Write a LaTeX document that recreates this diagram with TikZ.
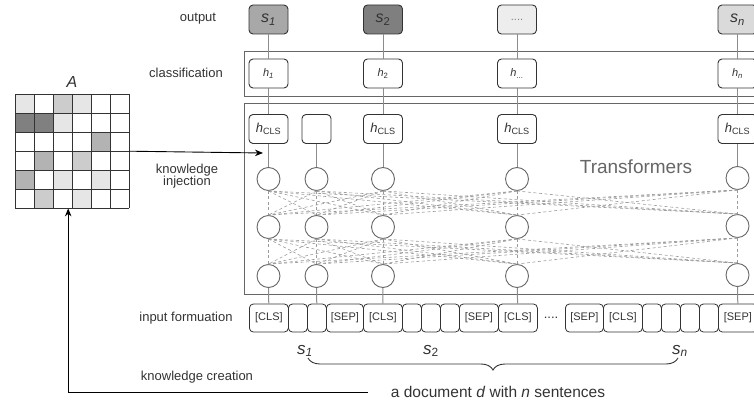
\documentclass[tikz,border=0pt]{standalone}
\usepackage{fontspec}
\setmainfont{Liberation Sans}
\usetikzlibrary{decorations.pathreplacing, arrows.meta}

\definecolor{ink}{HTML}{333333}
\definecolor{rim}{HTML}{666666}
\definecolor{wire}{HTML}{8C8C8C}
\definecolor{mesh}{HTML}{9A9A9A}
\definecolor{outA}{HTML}{A8A8A8}
\definecolor{outB}{HTML}{7F7F7F}
\definecolor{outC}{HTML}{EDEDED}
\definecolor{outD}{HTML}{DADADA}
\definecolor{cellD}{HTML}{808080}
\definecolor{cellM}{HTML}{B3B3B3}
\definecolor{cellK}{HTML}{CCCCCC}
\definecolor{cellL}{HTML}{E6E6E6}

\newcommand{\fsz}[1]{\fontsize{#1}{#1}\selectfont}

\tikzset{
  every node/.style={text=ink},
  lbl/.style={font=\fsz{13}, inner sep=1pt},
  frame/.style={draw=rim, line width=1.3pt, anchor=north west, inner sep=0},
  outbox/.style={draw=ink, line width=0.9pt, rounded corners=4pt, minimum width=39pt, minimum height=29pt, inner sep=0},
  hbox/.style={outbox, fill=white},
  neuron/.style={circle, draw=rim, fill=white, line width=0.9pt, minimum size=23pt, inner sep=0},
  token/.style={draw=ink, line width=0.8pt, rounded corners=4pt, minimum height=28pt, inner sep=0, anchor=west, font=\fsz{11}},
  conn/.style={draw=wire, line width=1pt},
  attn/.style={draw=mesh, dash pattern=on 3pt off 2.5pt, line width=0.6pt},
  arr/.style={-{Stealth[length=8pt,width=6.5pt]}, line width=0.9pt, black},
}

\begin{document}
\begin{tikzpicture}[x=1pt,y=-1pt]
\useasboundingbox (0,0) rectangle (754,404);

% row labels
\node[lbl] (lout) at (198,19) {output};
\node[lbl] (lcls) at (186,73) {classification};
\node[lbl] (linp) at (186,318) {input formuation};
\node[lbl, align=center] (linj) at (187,176) {knowledge\\[-1pt]injection};
\node[lbl] (lcre) at (197,377) {knowledge creation};

% knowledge matrix
\node[font=\fsz{16}\itshape] (Alabel) at (72,82) {A};
\node[minimum width=114pt, minimum height=114pt, inner sep=0, anchor=north west] (mat) at (15,94) {};
\foreach \c/\r/\tone in {0/0/cellL,2/0/cellK,3/0/cellL,0/1/cellD,1/1/cellD,2/1/cellL,4/2/cellM,1/3/cellM,3/3/cellK,0/4/cellM,2/4/cellL,4/4/cellL,1/5/cellK,3/5/cellL}
  \fill[\tone] (15+19*\c,94+19*\r) rectangle ++(19,19);
\foreach \k in {0,...,6} {
  \draw[ink, line width=0.9pt] (15+19*\k,94) -- (15+19*\k,208);
  \draw[ink, line width=0.9pt] (15,94+19*\k) -- (129,94+19*\k);
}

% frames
\node[frame, minimum width=526pt, minimum height=45pt] (clsframe) at (244,51) {};
\node[frame, minimum width=526pt, minimum height=191pt] (trframe) at (244,103) {};
\node[font=\fsz{19}, text=rim] (trlabel) at (636,167) {Transformers};

% output
\node[outbox, fill=outA] (o1) at (268.5,19.5) {\fsz{16}\textit{s}\textsubscript{\textit{1}}};
\node[outbox, fill=outB] (o2) at (383,19.5) {\fsz{16}\textit{s}\textsubscript{2}};
\node[outbox, fill=outC] (o3) at (517,19.5) {\fsz{11}\color{gray}....};
\node[outbox, fill=outD] (o4) at (737.5,19.5) {\fsz{16}\textit{s}\textsubscript{\textit{n}}};

% classification
\node[hbox] (h1) at (268.5,73.5) {\fsz{11}\textit{h}\textsubscript{\textit{1}}};
\node[hbox] (h2) at (383,73.5) {\fsz{11}\textit{h}\textsubscript{2}};
\node[hbox] (h3) at (517,73.5) {\fsz{11}\textit{h}\textsubscript{...}};
\node[hbox] (h4) at (737.5,73.5) {\fsz{11}\textit{h}\textsubscript{\textit{n}}};

% transformer outputs
\node[hbox] (c1) at (268.5,129) {\fsz{13}\textit{h}\textsubscript{CLS}};
\node[hbox, minimum width=29pt] (c0) at (316.5,129) {};
\node[hbox] (c2) at (383,129) {\fsz{13}\textit{h}\textsubscript{CLS}};
\node[hbox] (c3) at (517,129) {\fsz{13}\textit{h}\textsubscript{CLS}};
\node[hbox] (c4) at (737.5,129) {\fsz{13}\textit{h}\textsubscript{CLS}};

% layers
\node[neuron] (t1) at (268.5,179) {};
\node[neuron] (t2) at (316.5,179) {};
\node[neuron] (t3) at (383,179) {};
\node[neuron] (t4) at (517,179) {};
\node[neuron] (t5) at (737.5,178) {};
\node[neuron] (m1) at (268.5,227) {};
\node[neuron] (m2) at (316.5,227) {};
\node[neuron] (m3) at (383,227) {};
\node[neuron] (m4) at (517,227) {};
\node[neuron] (m5) at (737.5,226) {};
\node[neuron] (b1) at (268.5,276) {};
\node[neuron] (b2) at (316.5,276) {};
\node[neuron] (b3) at (383,276) {};
\node[neuron] (b4) at (517,276) {};
\node[neuron] (b5) at (737.5,275) {};

% input tokens
\node[token, minimum width=39pt] (tok1) at (249,318) {[CLS]};
\node[token, minimum width=19pt] (tok2) at (288,318) {};
\node[token, minimum width=19pt] (tok3) at (307,318) {};
\node[token, minimum width=37pt] (tok4) at (326,318) {[SEP]};
\node[token, minimum width=39pt] (tok5) at (363,318) {[CLS]};
\node[token, minimum width=19pt] (tok6) at (402,318) {};
\node[token, minimum width=19pt] (tok7) at (421,318) {};
\node[token, minimum width=19pt] (tok8) at (440,318) {};
\node[token, minimum width=39pt] (tok9) at (459,318) {[SEP]};
\node[token, minimum width=39pt] (tok10) at (498,318) {[CLS]};
\node[font=\fsz{13}] (tokdots) at (551,318) {....};
\node[token, minimum width=38pt] (tok11) at (565,318) {[SEP]};
\node[token, minimum width=39pt] (tok12) at (603,318) {[CLS]};
\node[token, minimum width=19pt] (tok13) at (642,318) {};
\node[token, minimum width=19pt] (tok14) at (661,318) {};
\node[token, minimum width=19pt] (tok15) at (680,318) {};
\node[token, minimum width=19pt] (tok16) at (699,318) {};
\node[token, minimum width=39pt] (tok17) at (718,318) {[SEP]};

% sentences
\node[font=\fsz{17}] (sl1) at (305,351) {\textit{s}\textsubscript{\textit{1}}};
\node[font=\fsz{17}] (sl2) at (431,351) {\textit{s}\textsubscript{2}};
\node[font=\fsz{17}] (sln) at (680,351) {\textit{s}\textsubscript{\textit{n}}};
\coordinate (bl) at (308,358);
\coordinate (br) at (678,358);
\draw[ink, line width=0.9pt, decorate, decoration={brace, mirror, amplitude=12pt}] (bl) -- (br);
\node[font=\fsz{15.5}, inner sep=1pt] (doc) at (498,392) {a document \textit{d} with \textit{n} sentences};

% solid connections
\draw[conn] (o1) -- (h1);
\draw[conn] (h1) -- (c1);
\draw[conn] (c1) -- (t1);
\draw[conn] (c0) -- (t2);
\draw[conn] (o2) -- (h2);
\draw[conn] (h2) -- (c2);
\draw[conn] (c2) -- (t3);
\draw[conn] (o3) -- (h3);
\draw[conn] (h3) -- (c3);
\draw[conn] (c3) -- (t4);
\draw[conn] (o4) -- (h4);
\draw[conn] (h4) -- (c4);
\draw[conn] (c4) -- (t5);
\draw[conn] (b1) -- (tok1);
\draw[conn] (b2) -- (tok3);
\draw[conn] (b3) -- (tok5);
\draw[conn] (b4) -- (tok10);
\draw[conn] (b5) -- (tok17);

% attention
\foreach \a in {1,...,5}
  \foreach \b in {1,...,5} {
    \draw[attn] (t\a.south) -- (m\b.north);
    \draw[attn] (m\a.south) -- (b\b.north);
  }

% knowledge flow
\coordinate (inj) at (263,153);
\draw[arr] (mat.east) -- (inj);
\draw[arr] ([xshift=-22pt]doc.west) -| ([xshift=-4pt]mat.south);

\end{tikzpicture}
\end{document}
